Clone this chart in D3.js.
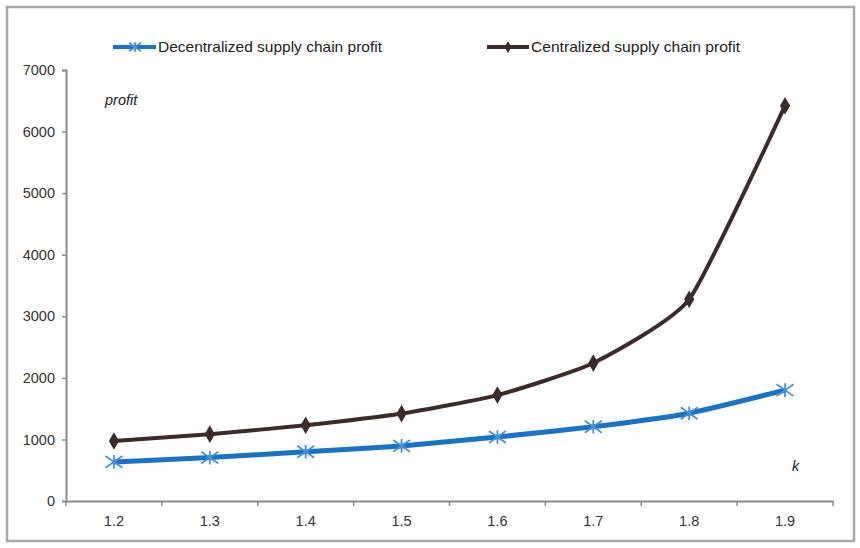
<!DOCTYPE html>
<html><head><meta charset="utf-8">
<script src="https://cdn.jsdelivr.net/npm/d3@7"></script>
<style>body{margin:0;background:#fff}svg{display:block}text{font-family:"Liberation Sans",Arial,sans-serif}</style>
</head><body><svg id="c" width="860" height="548"></svg>
<script>
const categories = ["1.2","1.3","1.4","1.5","1.6","1.7","1.8","1.9"];
const decentralized = [635, 705, 800, 895, 1040, 1205, 1425, 1800];
const centralized = [975, 1085, 1230, 1420, 1720, 2240, 3275, 6420];
const yTicks = [0,1000,2000,3000,4000,5000,6000,7000];
const seriesNames = ["Decentralized supply chain profit","Centralized supply chain profit"];

const svg = d3.select("#c");
const L = 66, R = 833, T = 70, B = 501;
svg.append("rect").attr("x",7).attr("y",7).attr("width",847).attr("height",534)
  .attr("fill","#fff").attr("stroke","#a8a8a8").attr("stroke-width",2.5);

const x = d3.scaleBand().domain(categories).range([L,R]);
const y = d3.scaleLinear().domain([0,7000]).range([B,T]);

const yAxis = svg.append("g").attr("transform",`translate(${L},0)`)
  .call(d3.axisLeft(y).tickValues(yTicks).tickSize(4).tickPadding(7).tickFormat(d3.format("d")));
const xAxis = svg.append("g").attr("transform",`translate(0,${B})`)
  .call(d3.axisBottom(x).tickSize(0).tickPadding(15));
[yAxis,xAxis].forEach(g=>{
  g.select(".domain").attr("stroke","#8a8a8a").attr("stroke-width",2);
  g.selectAll("line").attr("stroke","#8a8a8a").attr("stroke-width",1.5);
  g.selectAll("text").attr("fill","#333").attr("font-size",14.5);
});
const bounds = categories.map(c=>x(c)).concat([x.range()[1]]);
svg.append("g").selectAll("line").data(bounds).join("line")
  .attr("x1",d=>d).attr("x2",d=>d).attr("y1",B).attr("y2",B+5)
  .attr("stroke","#8a8a8a").attr("stroke-width",1.5);

const cx = c => x(c)+x.bandwidth()/2;
const line = d3.line().x((d,i)=>cx(categories[i])).y(d=>y(d)).curve(d3.curveCardinal.tension(0.5));

const blue = "#1872c8", brown = "#3b2b2b";
svg.append("path").datum(centralized).attr("d",line).attr("fill","none")
  .attr("stroke",brown).attr("stroke-width",4);
svg.append("path").datum(decentralized).attr("d",line).attr("fill","none")
  .attr("stroke",blue).attr("stroke-width",5);

const diamond = d3.symbol().type(d3.symbolDiamond).size(90);
function star(g, px, py, s){
  g.append("path").attr("d",`M${px-s},${py-s*0.7}L${px+s},${py+s*0.7}M${px-s},${py+s*0.7}L${px+s},${py-s*0.7}M${px},${py-s*0.8}L${px},${py+s*0.8}`)
   .attr("stroke","#4a8fd6").attr("stroke-width",1.8).attr("fill","none");
}
svg.append("g").selectAll("path").data(centralized).join("path")
  .attr("d",diamond).attr("transform",(d,i)=>`translate(${cx(categories[i])},${y(d)})`)
  .attr("fill",brown);
const sg = svg.append("g");
decentralized.forEach((d,i)=>star(sg,cx(categories[i]),y(d),8.5));

// legend
const lg = svg.append("g");
lg.append("line").attr("x1",113).attr("x2",156).attr("y1",47).attr("y2",47).attr("stroke",blue).attr("stroke-width",4);
star(lg,135,47,6);
lg.append("text").attr("x",158).attr("y",52).attr("font-size",14.5).attr("fill","#222")
  .attr("textLength",224).attr("lengthAdjust","spacingAndGlyphs").text(seriesNames[0]);
lg.append("line").attr("x1",487).attr("x2",529).attr("y1",47).attr("y2",47).attr("stroke",brown).attr("stroke-width",4);
lg.append("path").attr("d",d3.symbol().type(d3.symbolDiamond).size(40)).attr("transform","translate(508,47)").attr("fill",brown);
lg.append("text").attr("x",531).attr("y",52).attr("font-size",14.5).attr("fill","#222")
  .attr("textLength",209).attr("lengthAdjust","spacingAndGlyphs").text(seriesNames[1]);

svg.append("text").attr("x",105).attr("y",105).attr("font-size",14.5).attr("font-style","italic").attr("fill","#222").text("profit");
svg.append("text").attr("x",792).attr("y",471).attr("font-size",14.5).attr("font-style","italic").attr("fill","#222").text("k");
</script></body></html>
